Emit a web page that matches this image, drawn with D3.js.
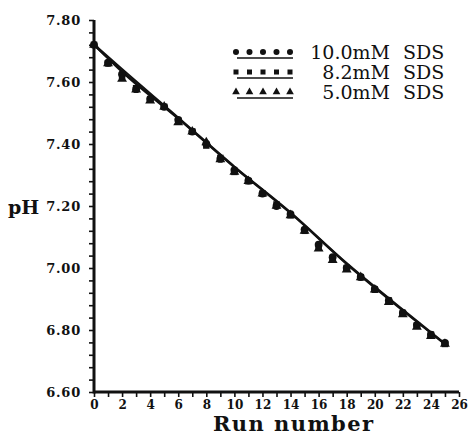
<!DOCTYPE html>
<html>
<head>
<meta charset="utf-8">
<script src="https://cdn.jsdelivr.net/npm/d3@7"></script>
<style>
  html, body { margin: 0; padding: 0; background: #fff; }
  svg { display: block; }
</style>
</head>
<body>
<svg id="chart" width="470" height="435"></svg>
<script>
  // ============================================================
  // Data
  // ============================================================
  const runs = d3.range(0, 26);
  const sds10 = [7.72, 7.662, 7.625, 7.577, 7.545, 7.52, 7.478, 7.44, 7.40, 7.352, 7.316, 7.282, 7.24,
                 7.20, 7.174, 7.124, 7.075, 7.035, 7.00, 6.971, 6.932, 6.895, 6.855, 6.816, 6.785, 6.758];
  const sds82 = [7.72, 7.66, 7.62, 7.58, 7.545, 7.52, 7.475, 7.44, 7.395, 7.355, 7.31, 7.28, 7.24,
                 7.205, 7.17, 7.12, 7.07, 7.03, 7.00, 6.97, 6.93, 6.895, 6.855, 6.815, 6.785, 6.755];
  const sds50 = [7.72, 7.66, 7.61, 7.575, 7.54, 7.52, 7.47, 7.44, 7.405, 7.35, 7.31, 7.28, 7.24,
                 7.20, 7.17, 7.12, 7.062, 7.025, 6.995, 6.97, 6.93, 6.89, 6.85, 6.81, 6.78, 6.755];

  // fitted curves (run, pH) per series
  const fitRuns = [0, 2, 6, 10, 14, 18, 22, 25];
  const fit10 = [7.722, 7.642, 7.486, 7.328, 7.180, 7.016, 6.866, 6.757];
  const fit82 = [7.72, 7.632, 7.481, 7.324, 7.176, 7.012, 6.862, 6.755];
  const fit50 = [7.718, 7.636, 7.483, 7.326, 7.178, 7.014, 6.864, 6.753];

  const seriesNames = ["10.0mM", "8.2mM", "5.0mM"];
  const yTicks = [6.60, 6.80, 7.00, 7.20, 7.40, 7.60, 7.80];
  const xTicks = d3.range(0, 27, 2);

  const series = [
    { name: seriesNames[0], values: sds10, fit: fit10, symbol: d3.symbolCircle, size: 48 },
    { name: seriesNames[1], values: sds82, fit: fit82, symbol: d3.symbolSquare, size: 42 },
    { name: seriesNames[2], values: sds50, fit: fit50, symbol: d3.symbolTriangle, size: 42 },
  ];

  // ============================================================
  // Layout
  // ============================================================
  const svg = d3.select("#chart");
  const ink = "#111";
  const x = d3.scaleLinear().domain([0, 26]).range([94, 459]);
  const y = d3.scaleLinear().domain([6.6, 7.8]).range([392, 20]);

  // Axes
  const yAxis = d3.axisLeft(y)
    .tickValues(d3.range(6.6, 7.8001, 0.04))
    .tickSize(5)
    .tickFormat(d => {
      const hit = yTicks.find(t => Math.abs(t - d) < 1e-6);
      return hit !== undefined ? d3.format(".2f")(hit) : "";
    });
  const gy = svg.append("g").attr("transform", "translate(94,0)").call(yAxis);
  gy.select(".domain").remove();
  gy.selectAll(".tick line").attr("stroke", ink).attr("stroke-width", 1.6);
  gy.selectAll(".tick text")
    .attr("x", -13)
    .attr("fill", ink)
    .attr("font-family", "DejaVu Serif")
    .attr("font-weight", "bold")
    .attr("font-size", 13)
    .attr("letter-spacing", 0.8);

  const xAxis = d3.axisBottom(x)
    .tickValues(d3.range(0, 27, 1))
    .tickSize(5)
    .tickFormat(d => xTicks.includes(d) ? d : "");
  const gx = svg.append("g").attr("transform", "translate(0,392)").call(xAxis);
  gx.select(".domain").remove();
  gx.selectAll(".tick line").attr("stroke", ink).attr("stroke-width", 1.6);
  gx.selectAll(".tick text")
    .attr("y", 8)
    .attr("fill", ink)
    .attr("font-family", "DejaVu Serif")
    .attr("font-weight", "bold")
    .attr("font-size", 12);

  // axis lines
  svg.append("line").attr("x1", 94).attr("x2", 94).attr("y1", y(7.8)).attr("y2", y(6.6) + 1.5)
    .attr("stroke", ink).attr("stroke-width", 3);
  svg.append("line").attr("x1", 94).attr("x2", x(26)).attr("y1", 392).attr("y2", 392)
    .attr("stroke", ink).attr("stroke-width", 3);

  // Axis titles
  svg.append("text").attr("x", 8).attr("y", 214)
    .attr("font-family", "DejaVu Serif").attr("font-weight", "bold").attr("font-size", 19)
    .attr("fill", ink).text("pH");
  svg.append("text").attr("x", 213).attr("y", 431)
    .attr("font-family", "DejaVu Serif").attr("font-weight", "bold").attr("font-size", 21)
    .attr("textLength", 160).attr("lengthAdjust", "spacing")
    .attr("fill", ink).text("Run number");

  // ============================================================
  // Series
  // ============================================================
  const fitLine = d3.line().x((d, i) => x(fitRuns[i])).y(d => y(d)).curve(d3.curveMonotoneX);
  series.forEach(s => {
    svg.append("path")
      .attr("d", fitLine(s.fit))
      .attr("fill", "none")
      .attr("stroke", ink)
      .attr("stroke-width", 1.8);
  });

  series.forEach(s => {
    svg.append("g").selectAll("path")
      .data(s.values)
      .join("path")
      .attr("transform", (d, i) => `translate(${x(runs[i])},${y(d)})`)
      .attr("d", d3.symbol().type(s.symbol).size(s.size))
      .attr("fill", ink);
  });

  // ============================================================
  // Legend
  // ============================================================
  const legend = svg.append("g");
  series.forEach((s, i) => {
    const cy = 52 + i * 20;
    const g = legend.append("g");
    g.selectAll("path")
      .data(d3.range(5))
      .join("path")
      .attr("transform", k => `translate(${236 + k * 13.5},${cy})`)
      .attr("d", d3.symbol().type(s.symbol).size(s.size * 0.6))
      .attr("fill", ink);
    g.append("line").attr("x1", 237).attr("x2", 293).attr("y1", cy + 6).attr("y2", cy + 6)
      .attr("stroke", ink).attr("stroke-width", 1.5);
    g.append("text").attr("x", 390).attr("y", cy + 7).attr("text-anchor", "end")
      .attr("font-family", "DejaVu Serif").attr("font-size", 19).attr("fill", ink)
      .text(s.name);
    g.append("text").attr("x", 403).attr("y", cy + 7)
      .attr("font-family", "DejaVu Serif").attr("font-size", 19).attr("fill", ink)
      .text("SDS");
  });
</script>
</body>
</html>
